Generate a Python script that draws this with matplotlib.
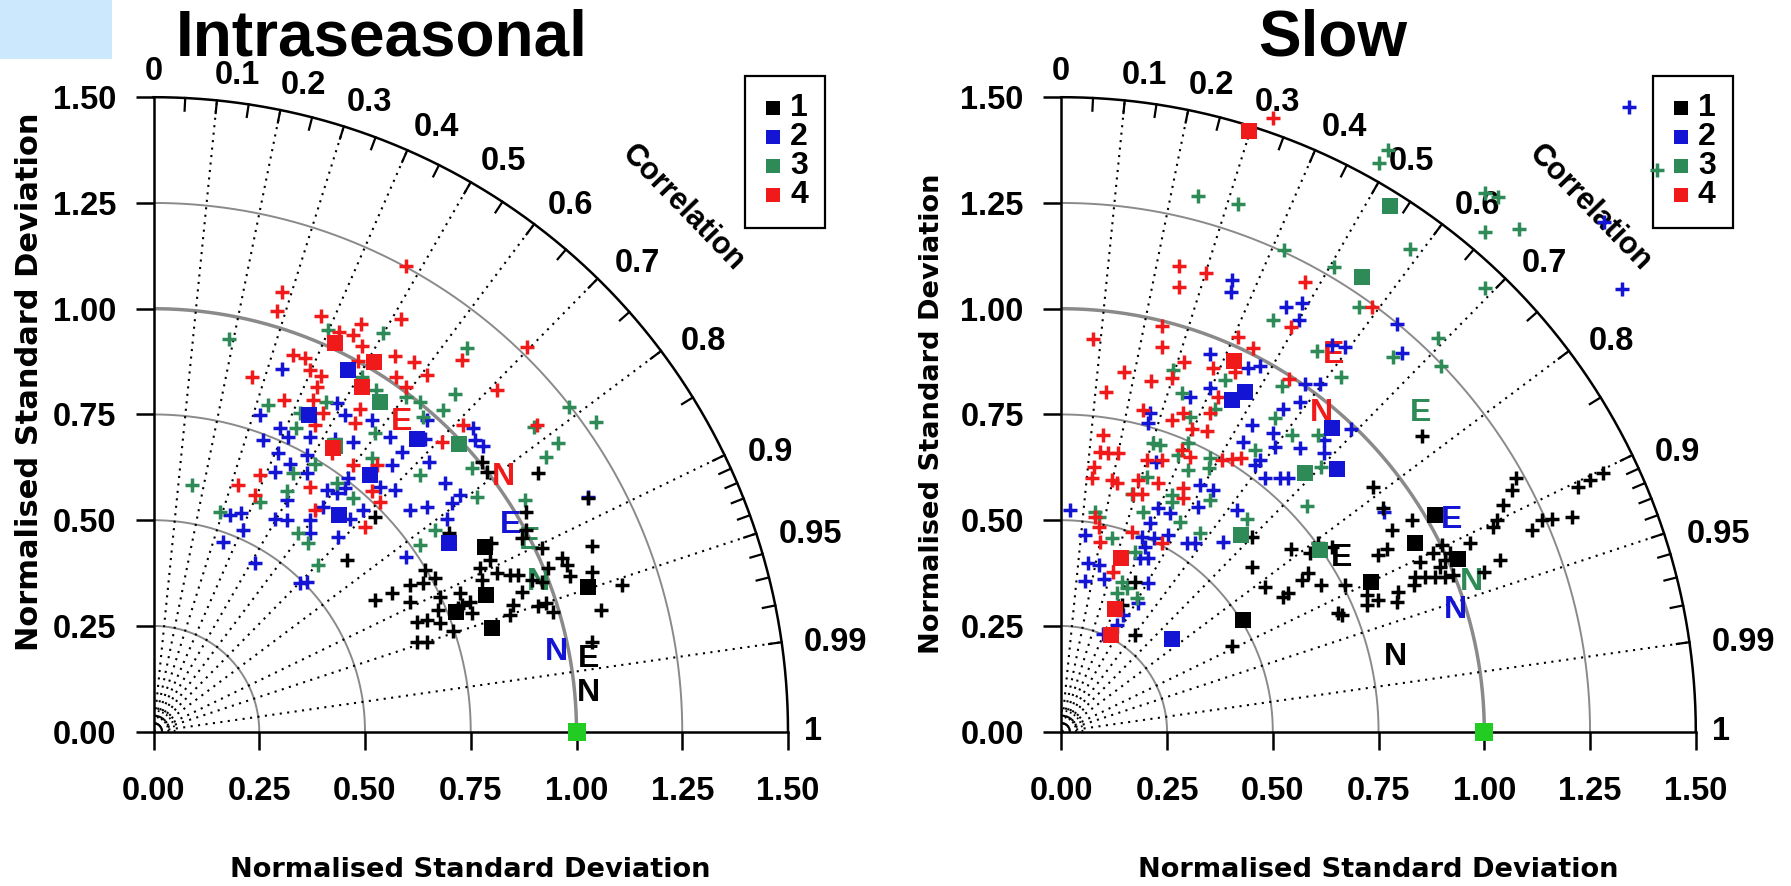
import numpy as np
import matplotlib
matplotlib.use("Agg")
import matplotlib.pyplot as plt
from matplotlib.patches import Rectangle

# ---------------- data ----------------
std_ticks = [0.0, 0.25, 0.5, 0.75, 1.0, 1.25, 1.5]
std_tick_labels = ["0.00", "0.25", "0.50", "0.75", "1.00", "1.25", "1.50"]
corr_label_values = [0, 0.1, 0.2, 0.3, 0.4, 0.5, 0.6, 0.7, 0.8, 0.9, 0.95, 0.99, 1]
corr_line_values = [0.1, 0.2, 0.3, 0.4, 0.5, 0.6, 0.7, 0.8, 0.9, 0.95, 0.99]
arc_tick_values = [0.05, 0.1, 0.15, 0.2, 0.25, 0.3, 0.35, 0.4, 0.45, 0.5, 0.55, 0.6,
                   0.65, 0.7, 0.75, 0.8, 0.85, 0.9, 0.91, 0.92, 0.93, 0.94, 0.95,
                   0.96, 0.97, 0.98, 0.99]
std_arc_values = [0.25, 0.5, 0.75, 1.0, 1.25]
legend_labels = ["1", "2", "3", "4"]
panel_titles = ["Intraseasonal", "Slow"]
reference_point = (1.0, 0.0)

# ---- Intraseasonal panel: (x, y) in normalised-std units ----
intra_plus_1 = [(0.524, 0.508), (0.457, 0.406), (0.563, 0.327), (0.524, 0.311), (0.606, 0.347),
                (0.606, 0.307), (0.642, 0.382), (0.638, 0.351), (0.622, 0.260), (0.646, 0.264),
                (0.622, 0.213), (0.646, 0.213), (0.776, 0.638), (0.788, 0.615), (0.910, 0.612),
                (1.028, 0.552), (0.881, 0.520), (0.699, 0.469), (0.881, 0.477), (0.870, 0.457),
                (0.918, 0.434), (1.036, 0.439), (0.799, 0.445), (0.795, 0.406), (0.772, 0.386),
                (0.813, 0.374), (0.843, 0.370), (0.862, 0.370), (0.965, 0.410), (0.977, 0.394),
                (0.985, 0.367), (0.933, 0.386), (0.894, 0.359), (0.918, 0.355), (1.036, 0.378),
                (1.107, 0.347), (0.776, 0.359), (0.870, 0.331), (0.929, 0.304), (0.945, 0.284),
                (0.910, 0.296), (0.851, 0.300), (0.843, 0.276), (1.059, 0.288), (0.748, 0.307),
                (0.752, 0.280), (0.725, 0.327), (0.721, 0.292), (0.677, 0.319), (0.673, 0.288),
                (0.665, 0.363), (0.677, 0.256), (0.709, 0.237), (1.036, 0.213), (0.729, 0.300)]
intra_plus_2 = [(0.303, 0.857), (0.252, 0.749), (0.299, 0.717), (0.259, 0.690), (0.319, 0.697),
                (0.370, 0.697), (0.433, 0.776), (0.453, 0.749), (0.516, 0.737), (0.559, 0.697),
                (0.472, 0.686), (0.587, 0.662), (0.646, 0.737), (0.295, 0.658), (0.429, 0.693),
                (0.756, 0.717), (0.642, 0.691), (0.760, 0.689), (0.780, 0.675), (0.362, 0.654),
                (0.287, 0.615), (0.362, 0.611), (0.563, 0.631), (0.181, 0.512), (0.208, 0.516),
                (0.212, 0.477), (0.165, 0.449), (0.287, 0.504), (0.315, 0.500), (0.315, 0.548),
                (0.370, 0.500), (0.370, 0.469), (0.401, 0.532), (0.409, 0.571), (0.433, 0.564),
                (0.460, 0.599), (0.453, 0.575), (0.464, 0.504), (0.496, 0.524), (0.535, 0.579),
                (0.571, 0.571), (0.606, 0.524), (0.646, 0.532), (0.437, 0.461), (0.240, 0.398),
                (0.346, 0.352), (0.362, 0.355), (0.598, 0.414), (0.323, 0.634), (0.652, 0.638),
                (0.689, 0.587), (0.693, 0.504), (0.725, 0.560), (0.705, 0.540), (1.028, 0.556)]
intra_plus_3 = [(0.179, 0.928), (0.413, 0.950), (0.543, 0.943), (0.492, 0.839), (0.271, 0.772),
                (0.408, 0.780), (0.346, 0.753), (0.527, 0.808), (0.598, 0.792), (0.630, 0.780),
                (0.524, 0.705), (0.638, 0.745), (0.338, 0.717), (0.740, 0.906), (0.713, 0.798),
                (0.684, 0.760), (0.983, 0.768), (1.046, 0.733), (0.900, 0.721), (0.957, 0.682),
                (0.929, 0.650), (0.090, 0.583), (0.157, 0.520), (0.252, 0.544), (0.315, 0.568),
                (0.330, 0.611), (0.382, 0.634), (0.342, 0.469), (0.366, 0.445), (0.390, 0.394),
                (0.472, 0.552), (0.516, 0.646), (0.630, 0.607), (0.630, 0.441), (0.878, 0.548),
                (0.764, 0.556), (0.752, 0.623), (0.665, 0.477), (0.433, 0.587)]
intra_plus_4 = [(0.598, 1.101), (0.303, 1.040), (0.291, 0.995), (0.397, 0.983), (0.490, 0.963),
                (0.585, 0.975), (0.439, 0.946), (0.472, 0.938), (0.494, 0.912), (0.571, 0.888),
                (0.616, 0.873), (0.329, 0.890), (0.358, 0.883), (0.371, 0.855), (0.396, 0.841),
                (0.232, 0.839), (0.386, 0.816), (0.573, 0.839), (0.308, 0.783), (0.646, 0.843),
                (0.483, 0.877), (0.598, 0.816), (0.378, 0.784), (0.401, 0.753), (0.488, 0.764),
                (0.476, 0.729), (0.382, 0.725), (0.421, 0.658), (0.884, 0.909), (0.729, 0.879),
                (0.811, 0.808), (0.732, 0.725), (0.681, 0.686), (0.906, 0.725), (0.252, 0.607),
                (0.200, 0.583), (0.240, 0.560), (0.370, 0.579), (0.516, 0.568), (0.535, 0.544),
                (0.500, 0.485), (0.382, 0.524), (0.472, 0.631), (0.528, 0.631)]
intra_square_1 = [(0.784, 0.437), (0.786, 0.322), (0.800, 0.246), (1.028, 0.341), (0.714, 0.282)]
intra_square_2 = [(0.459, 0.855), (0.367, 0.749), (0.624, 0.691), (0.511, 0.607), (0.439, 0.512),
                  (0.699, 0.445)]
intra_square_3 = [(0.535, 0.780), (0.723, 0.680), (0.430, 0.676)]
intra_square_4 = [(0.429, 0.920), (0.522, 0.875), (0.492, 0.816), (0.425, 0.670)]
intra_E = [(1.028, 0.172), (0.843, 0.489), (0.890, 0.452), (0.587, 0.733)]
intra_N = [(1.028, 0.092), (0.953, 0.189), (0.910, 0.355), (0.827, 0.603)]

# ---- Slow panel ----
slow_plus_1 = [(0.450, 0.461), (0.544, 0.433), (0.588, 0.422), (0.608, 0.445), (0.639, 0.437),
               (0.450, 0.390), (0.482, 0.343), (0.568, 0.359), (0.584, 0.374), (0.525, 0.319),
               (0.537, 0.327), (0.615, 0.347), (0.655, 0.280), (0.174, 0.355), (0.143, 0.300),
               (0.174, 0.229), (0.403, 0.203), (0.853, 0.699), (0.738, 0.579), (0.761, 0.528),
               (0.828, 0.500), (0.781, 0.478), (0.769, 0.433), (0.749, 0.418), (0.848, 0.402),
               (0.879, 0.422), (0.899, 0.441), (0.919, 0.422), (0.966, 0.445), (1.037, 0.406),
               (1.000, 0.378), (0.836, 0.366), (0.860, 0.366), (0.883, 0.366), (0.907, 0.366),
               (0.927, 0.370), (0.834, 0.347), (0.797, 0.331), (0.793, 0.307), (0.749, 0.311),
               (0.722, 0.299), (0.722, 0.323), (0.671, 0.347), (0.663, 0.276), (1.076, 0.599),
               (1.065, 0.571), (1.045, 0.536), (1.029, 0.500), (1.021, 0.485), (1.112, 0.477),
               (1.136, 0.500), (1.159, 0.504), (1.208, 0.508), (1.221, 0.579), (1.250, 0.595),
               (1.281, 0.612), (0.907, 0.406), (0.895, 0.390)]
slow_plus_2 = [(0.403, 1.068), (0.400, 1.040), (0.531, 1.005), (0.568, 1.013), (0.563, 0.973),
               (0.352, 0.894), (0.442, 0.859), (0.470, 0.864), (0.576, 0.823), (0.612, 0.823),
               (0.639, 0.914), (0.793, 0.965), (0.805, 0.896), (1.284, 1.206), (1.325, 1.046),
               (0.671, 0.910), (1.343, 1.478), (0.021, 0.524), (0.056, 0.465), (0.064, 0.400),
               (0.088, 0.394), (0.056, 0.357), (0.102, 0.360), (0.206, 0.351), (0.182, 0.305),
               (0.147, 0.276), (0.131, 0.252), (0.099, 0.231), (0.210, 0.753), (0.206, 0.729),
               (0.304, 0.792), (0.352, 0.812), (0.225, 0.638), (0.328, 0.583), (0.359, 0.571),
               (0.324, 0.532), (0.229, 0.528), (0.257, 0.516), (0.210, 0.493), (0.190, 0.461),
               (0.218, 0.457), (0.253, 0.465), (0.198, 0.437), (0.186, 0.410), (0.206, 0.410),
               (0.296, 0.445), (0.316, 0.445), (0.383, 0.449), (0.415, 0.524), (0.450, 0.725),
               (0.430, 0.686), (0.501, 0.705), (0.505, 0.674), (0.525, 0.764), (0.564, 0.780),
               (0.458, 0.630), (0.470, 0.642), (0.482, 0.599), (0.517, 0.599), (0.537, 0.599),
               (0.564, 0.670), (0.620, 0.690), (0.620, 0.658), (0.686, 0.715), (0.764, 0.520)]
slow_plus_3 = [(0.322, 1.266), (0.417, 1.247), (0.527, 1.139), (0.645, 1.099), (0.501, 0.973),
               (0.604, 0.901), (0.661, 0.839), (0.265, 0.855), (0.387, 0.831), (0.521, 0.817),
               (0.772, 1.374), (0.752, 1.344), (1.002, 1.273), (1.032, 1.265), (1.002, 1.182),
               (1.082, 1.188), (0.824, 1.140), (1.002, 1.048), (0.704, 1.005), (0.891, 0.930),
               (0.783, 0.885), (0.898, 0.864), (1.409, 1.328), (0.285, 0.800), (0.304, 0.745),
               (0.363, 0.764), (0.505, 0.741), (0.545, 0.701), (0.608, 0.701), (0.458, 0.666),
               (0.615, 0.625), (0.580, 0.534), (0.217, 0.682), (0.233, 0.678), (0.300, 0.682),
               (0.277, 0.654), (0.300, 0.619), (0.352, 0.646), (0.348, 0.623), (0.202, 0.603),
               (0.166, 0.563), (0.261, 0.560), (0.261, 0.544), (0.352, 0.548), (0.080, 0.520),
               (0.088, 0.508), (0.194, 0.520), (0.281, 0.496), (0.119, 0.457), (0.174, 0.426),
               (0.328, 0.469), (0.438, 0.504), (0.143, 0.355), (0.155, 0.339), (0.178, 0.315),
               (0.131, 0.327)]
slow_plus_4 = [(0.501, 1.452), (0.278, 1.101), (0.278, 1.052), (0.342, 1.084), (0.576, 1.062),
               (0.544, 0.957), (0.076, 0.928), (0.239, 0.959), (0.239, 0.909), (0.289, 0.873),
               (0.418, 0.934), (0.454, 0.906), (0.149, 0.851), (0.211, 0.830), (0.262, 0.835),
               (0.359, 0.859), (0.411, 0.851), (0.539, 0.833), (0.735, 1.005), (0.105, 0.804),
               (0.194, 0.760), (0.261, 0.737), (0.288, 0.753), (0.352, 0.753), (0.344, 0.712),
               (0.308, 0.715), (0.371, 0.792), (0.099, 0.701), (0.092, 0.662), (0.111, 0.658),
               (0.135, 0.660), (0.078, 0.625), (0.072, 0.599), (0.119, 0.595), (0.131, 0.587),
               (0.202, 0.642), (0.237, 0.642), (0.285, 0.666), (0.304, 0.649), (0.379, 0.642),
               (0.403, 0.644), (0.426, 0.646), (0.182, 0.595), (0.229, 0.587), (0.170, 0.563),
               (0.190, 0.563), (0.288, 0.575), (0.288, 0.552), (0.088, 0.485), (0.092, 0.449),
               (0.166, 0.473), (0.237, 0.445), (0.123, 0.378), (0.080, 0.508)]
slow_square_1 = [(0.883, 0.512), (0.836, 0.447), (0.939, 0.408), (0.732, 0.355), (0.430, 0.264)]
slow_square_2 = [(0.403, 0.784), (0.434, 0.804), (0.639, 0.717), (0.651, 0.620), (0.262, 0.218)]
slow_square_3 = [(0.777, 1.243), (0.712, 1.074), (0.575, 0.612), (0.425, 0.465), (0.612, 0.430)]
slow_square_4 = [(0.444, 1.421), (0.408, 0.877), (0.141, 0.410), (0.127, 0.289), (0.117, 0.229)]
slow_E = [(0.663, 0.410), (0.923, 0.500), (0.850, 0.753), (0.643, 0.890)]
slow_N = [(0.789, 0.177), (0.932, 0.288), (0.970, 0.355), (0.616, 0.753)]

# ---------------- style ----------------
group_colors = ["#000000", "#1414d4", "#2e8b57", "#f01a1a"]
plus_order = [1, 2, 3, 0]
ARIAL = ["Liberation Sans", "DejaVu Sans"]
WIDE = ["DejaVu Sans"]

W, H = 1791, 886
fig = plt.figure(figsize=(W / 100, H / 100), dpi=100)

# light blue patch top-left
fig.add_artist(Rectangle((0, 1 - 59 / H), 112 / W, 59 / H, transform=fig.transFigure,
                         facecolor="#cce8fc", edgecolor="none"))

SCALE = 423.0
origins = [(153.5, 731.7), (1061.3, 731.7)]
title_x = [381.5, 1333.0]
ylabel_cfg = [(30.0, 381.5, 22.0), (932.0, 414.0, 19.6)]


def corr_label_pos(c, txt):
    t = np.arccos(c)
    r = 1.56 + 0.022 * (len(txt) - 1) * np.cos(t)
    if 0 < c < 1:
        off = np.deg2rad(1.5) * min(1.0, np.rad2deg(t) / 18.0)
    else:
        off = 0.0
    a = t - off
    return r * np.cos(a), r * np.sin(a)


def draw_panel(ax, plus_sets, square_sets, e_pts, n_pts):
    ax.set_xlim(0, 1.5)
    ax.set_ylim(0, 1.5)
    ax.patch.set_alpha(0)
    for s in ["top", "right"]:
        ax.spines[s].set_visible(False)
    for s in ["left", "bottom"]:
        ax.spines[s].set_linewidth(1.8)
    ax.set_xticks(std_ticks)
    ax.set_yticks(std_ticks)
    ax.set_xticklabels(std_tick_labels, fontsize=23.5, fontweight="bold", family=ARIAL)
    ax.set_yticklabels(std_tick_labels, fontsize=23.5, fontweight="bold", family=ARIAL)
    ax.tick_params(axis="both", direction="out", length=13, width=1.8)
    ax.tick_params(axis="x", pad=19)
    ax.tick_params(axis="y", pad=14)

    th = np.linspace(0, np.pi / 2, 400)
    for r in std_arc_values:
        ax.plot(r * np.cos(th), r * np.sin(th), color="#8a8a8a",
                lw=2.5 if r == 1.0 else 1.4, zorder=1)
    ax.plot(1.5 * np.cos(th), 1.5 * np.sin(th), color="black", lw=1.8,
            clip_on=False, zorder=2)
    for c in corr_line_values:
        t = np.arccos(c)
        ax.plot([0, 1.5 * np.cos(t)], [0, 1.5 * np.sin(t)], color="black", lw=1.5,
                linestyle=(0, (1, 2.6)), zorder=1)
    for r in [0.02, 0.035, 0.05]:
        ax.plot(r * np.cos(th), r * np.sin(th), color="black", lw=1.3,
                linestyle=(0, (1, 1.5)), zorder=1)
    for c in arc_tick_values:
        t = np.arccos(c)
        ax.plot([1.47 * np.cos(t), 1.5 * np.cos(t)], [1.47 * np.sin(t), 1.5 * np.sin(t)],
                color="black", lw=1.6, clip_on=False, zorder=2)
    for c in corr_label_values:
        txt = "0" if c == 0 else ("1" if c == 1 else f"{c:g}")
        lx, ly = corr_label_pos(c, txt)
        ax.text(lx, ly, txt, fontsize=23.5, fontweight="bold",
                family=ARIAL, ha="center", va="center", clip_on=False)
    a = np.deg2rad(44.7)
    ax.text(1.76 * np.cos(a), 1.76 * np.sin(a), "Correlation", fontsize=22,
            fontweight="bold", family=ARIAL, rotation=-46, ha="center", va="center",
            rotation_mode="anchor", clip_on=False)

    # legend
    ax.add_patch(Rectangle((1.398, 1.191), 0.189, 0.359, facecolor="white",
                           edgecolor="black", lw=1.6, clip_on=False, zorder=2))
    for i, lab in enumerate(legend_labels):
        ly = 1.474 - i * 0.0685
        ax.plot([1.464], [ly], marker="s", ms=9.5, mew=0, color=group_colors[i],
                linestyle="none", clip_on=False, zorder=3)
        ax.text(1.505, ly, lab, fontsize=23, fontweight="bold", family=ARIAL,
                ha="left", va="center", clip_on=False, zorder=3)

    # letters
    for g in range(4):
        ax.text(e_pts[g][0], e_pts[g][1], "E", color=group_colors[g], fontsize=23,
                fontweight="bold", family=ARIAL, ha="center", va="center", zorder=3,
                clip_on=False)
        ax.text(n_pts[g][0], n_pts[g][1], "N", color=group_colors[g], fontsize=23,
                fontweight="bold", family=ARIAL, ha="center", va="center", zorder=3,
                clip_on=False)
    # crosses
    for g in plus_order:
        xy = np.array(plus_sets[g])
        ax.plot(xy[:, 0], xy[:, 1], linestyle="none", marker="+", ms=10.5, mew=2.5,
                color=group_colors[g], clip_on=False, zorder=4)
    for g in range(4):
        xy = np.array(square_sets[g])
        ax.plot(xy[:, 0], xy[:, 1], linestyle="none", marker="s", ms=11, mew=0,
                color=group_colors[g], clip_on=False, zorder=5)
    ax.plot([reference_point[0]], [reference_point[1]], marker="s", ms=13, mew=0,
            color="#22cc22", linestyle="none", clip_on=False, zorder=6)


panels = [
    ([intra_plus_1, intra_plus_2, intra_plus_3, intra_plus_4],
     [intra_square_1, intra_square_2, intra_square_3, intra_square_4], intra_E, intra_N),
    ([slow_plus_1, slow_plus_2, slow_plus_3, slow_plus_4],
     [slow_square_1, slow_square_2, slow_square_3, slow_square_4], slow_E, slow_N),
]

for k, (plus_sets, square_sets, e_pts, n_pts) in enumerate(panels):
    ox, oy = origins[k]
    side = 1.5 * SCALE
    ax = fig.add_axes([ox / W, (H - oy) / H, side / W, side / H])
    draw_panel(ax, plus_sets, square_sets, e_pts, n_pts)
    fig.text(title_x[k] / W, 1 - 55 / H, panel_titles[k], fontsize=46, fontweight="bold",
             family=ARIAL, ha="center", va="baseline")
    fig.text((ox + 0.75 * SCALE) / W, 1 - 870 / H, "Normalised Standard Deviation",
             fontsize=19.6, fontweight="bold", family=WIDE, ha="center", va="center")
    yx, yy, ys = ylabel_cfg[k]
    fig.text(yx / W, 1 - yy / H, "Normalised Standard Deviation", fontsize=ys,
             fontweight="bold", family=WIDE, rotation=90, ha="center", va="center")

fig.savefig("out.png", dpi=100)
